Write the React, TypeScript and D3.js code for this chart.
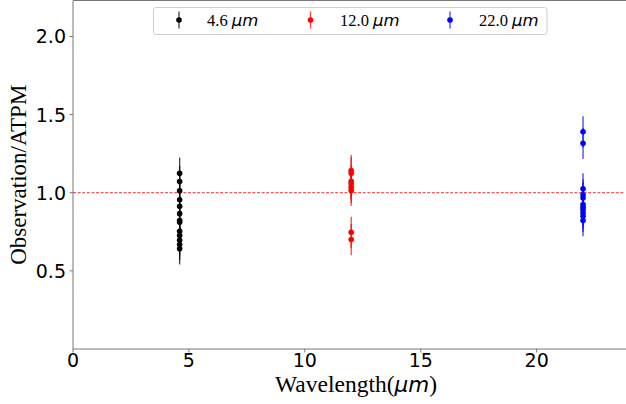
import React from "react";
import * as d3 from "d3";

const W = 626;
const H = 404;

const bandLabels = ["4.6", "12.0", "22.0"];
const bandWavelengths = [4.6, 12.0, 22.0];
const bandColors = ["#000000", "#ff0000", "#0000ff"];

const ratios46 = [1.125, 1.072, 1.013, 0.955, 0.913, 0.866, 0.822, 0.811, 0.753, 0.726, 0.696, 0.669, 0.641];
const ratios120 = [1.142, 1.125, 1.073, 1.057, 1.034, 1.015, 0.747, 0.70];
const ratios220 = [1.39, 1.316, 1.025, 0.987, 0.966, 0.924, 0.907, 0.892, 0.871, 0.849, 0.822];
const errors46 = ratios46.map(() => 0.1);
const errors120 = ratios120.map(() => 0.1);
const errors220 = ratios220.map(() => 0.1);

const xTicks = [0, 5, 10, 15, 20];
const yTicks = [0.5, 1.0, 1.5, 2.0];

const series = [
  { values: ratios46, errors: errors46 },
  { values: ratios120, errors: errors120 },
  { values: ratios220, errors: errors220 },
];

export default function App() {
  const left = 73, right = 625, top = 0.5, bottom = 349;
  const x = d3.scaleLinear().domain([0, 23.81]).range([left, right]);
  const y = d3.scaleLinear().domain([0, 2.23]).range([bottom, top]);
  const axisColor = "#777";

  const legendX = [179, 310.5, 450];
  const legendTextX = [207, 340, 479];

  return (
    <svg width={W} height={H} style={{ position: "absolute", left: 0, top: 0, background: "#fff" }}>
      {/* reference line */}
      <line x1={left} x2={right} y1={y(1)} y2={y(1)} stroke="#d00000" strokeWidth={0.8} strokeDasharray="3,1.6" />

      {series.map((s, si) => (
        <g key={si}>
          {s.values.map((v, i) => (
            <line key={"e" + i} x1={x(bandWavelengths[si])} x2={x(bandWavelengths[si])}
              y1={y(v + s.errors[i])} y2={y(v - s.errors[i])}
              stroke={bandColors[si]} strokeWidth={1.3} strokeOpacity={0.75} />
          ))}
          {s.values.map((v, i) => (
            <circle key={"p" + i} cx={x(bandWavelengths[si])} cy={y(v)} r={2.8} fill={bandColors[si]} />
          ))}
        </g>
      ))}

      {/* spines */}
      <line x1={left} x2={left} y1={top} y2={bottom} stroke={axisColor} strokeWidth={1} />
      <line x1={left} x2={right + 1} y1={bottom} y2={bottom} stroke={axisColor} strokeWidth={1} />
      <line x1={left} x2={right + 1} y1={top} y2={top} stroke={axisColor} strokeWidth={1} />

      {xTicks.map((t) => (
        <g key={"x" + t}>
          <line x1={x(t)} x2={x(t)} y1={bottom} y2={bottom + 3.5} stroke={axisColor} strokeWidth={1} />
          <text x={x(t)} y={bottom + 18} textAnchor="middle" fontFamily="DejaVu Sans" fontSize={19} fill="#000">{t}</text>
        </g>
      ))}
      {yTicks.map((t) => (
        <g key={"y" + t}>
          <line x1={left - 3.5} x2={left} y1={y(t)} y2={y(t)} stroke={axisColor} strokeWidth={1} />
          <text x={left - 7} y={y(t) + 7} textAnchor="end" fontFamily="DejaVu Sans" fontSize={19} fill="#000">{t.toFixed(1)}</text>
        </g>
      ))}

      <text x={(left + right) / 2 + 7} y={392} textAnchor="middle" fontFamily="Liberation Serif" fontSize={23.5} fill="#000">
        Wavelength(<tspan fontFamily="DejaVu Sans" fontStyle="italic" fontSize={21.5}>μm</tspan>)
      </text>
      <text transform={`translate(26, ${(top + bottom) / 2}) rotate(-90)`} textAnchor="middle" fontFamily="Liberation Serif" fontSize={23} fill="#000">
        Observation/ATPM
      </text>

      {/* legend */}
      <rect x={153.5} y={7.5} width={393.5} height={27} rx={2.5} fill="#fff" fillOpacity={0.8} stroke="#d0d0d0" strokeWidth={1} />
      {bandLabels.map((lab, i) => (
        <g key={"l" + i}>
          <line x1={legendX[i]} x2={legendX[i]} y1={11.5} y2={28.5} stroke={bandColors[i]} strokeWidth={1.3} strokeOpacity={0.75} />
          <circle cx={legendX[i]} cy={20} r={2.8} fill={bandColors[i]} />
          <text x={legendTextX[i]} y={26} fontFamily="Liberation Serif" fontSize={16.5} fill="#000">
            {lab} <tspan fontFamily="DejaVu Sans" fontStyle="italic">μm</tspan>
          </text>
        </g>
      ))}
    </svg>
  );
}
